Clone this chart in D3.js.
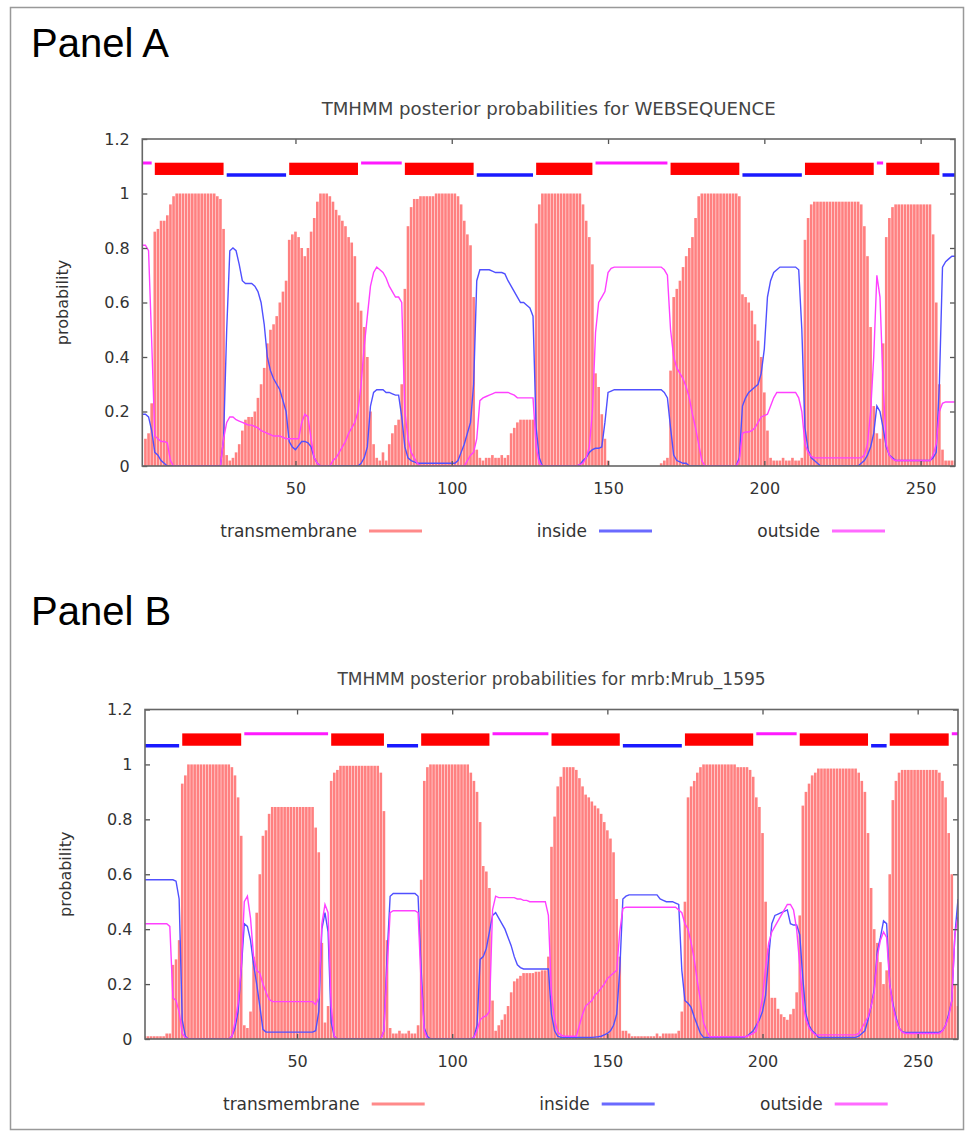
<!DOCTYPE html>
<html>
<head>
<meta charset="utf-8">
<script src="https://cdn.jsdelivr.net/npm/d3@7"></script>
<style>
body { margin: 0; background: #fff; }
svg text { font-family: "DejaVu Sans", sans-serif; }
</style>
</head>
<body>
<div id="chart"></div>
<script>
// axis ticks and legend names
var yTicks = [0, 0.2, 0.4, 0.6, 0.8, 1, 1.2];
var xTicks = [50, 100, 150, 200, 250];
var legendNames = ["transmembrane", "inside", "outside"];

// ---- Panel A : WEBSEQUENCE (261 residues) ----
var tmA = [
  0, 0.1, 0.12, 0.23, 0.86, 0.87, 0.9, 0.9, 0.92, 0.96,          // 1
  0.99, 1, 1, 1, 1, 1, 1, 1, 1, 1,                              // 11
  1, 1, 1, 1, 0.99, 0.98, 0.87, 0.04, 0.02, 0.03,               // 21
  0.05, 0.08, 0.13, 0.17, 0.18, 0.18, 0.2, 0.25, 0.3, 0.36,     // 31
  0.45, 0.5, 0.52, 0.55, 0.6, 0.64, 0.68, 0.83, 0.85, 0.86,     // 41
  0.84, 0.8, 0.77, 0.8, 0.86, 0.91, 0.97, 1, 1, 1,              // 51
  0.99, 0.97, 0.94, 0.92, 0.9, 0.88, 0.84, 0.82, 0.77, 0.6,     // 61
  0.57, 0.51, 0.4, 0.2, 0.08, 0.03, 0.02, 0.05, 0.02, 0.08,     // 71
  0.12, 0.15, 0.17, 0.3, 0.65, 0.88, 0.95, 0.98, 0.98, 0.99,    // 81
  0.99, 0.99, 0.99, 0.99, 1, 1, 1, 1, 1, 1,                     // 91
  1, 0.99, 0.96, 0.9, 0.85, 0.81, 0.62, 0.06, 0.03, 0.02,       // 101
  0.03, 0.03, 0.04, 0.03, 0.03, 0.04, 0.03, 0.04, 0.12, 0.14,   // 111
  0.16, 0.17, 0.17, 0.17, 0.17, 0.17, 0.89, 0.96, 1, 1,         // 121
  1, 1, 1, 1, 1, 1, 1, 1, 1, 1,                                 // 131
  1, 0.96, 0.9, 0.84, 0.74, 0.34, 0.29, 0.19, 0.1, 0.02,        // 141
  0, 0, 0, 0, 0, 0, 0, 0, 0, 0,                                 // 151
  0, 0, 0, 0, 0, 0, 0.01, 0.02, 0.03, 0.35,                     // 161
  0.62, 0.65, 0.68, 0.73, 0.77, 0.8, 0.84, 0.91, 0.99, 1,       // 171
  1, 1, 1, 1, 1, 1, 1, 1, 1, 1,                                 // 181
  1, 0.99, 0.63, 0.62, 0.6, 0.57, 0.52, 0.46, 0.4, 0.27,        // 191
  0.13, 0.03, 0.02, 0.02, 0.02, 0.03, 0.02, 0.02, 0.03, 0.02,   // 201
  0.02, 0.03, 0.83, 0.91, 0.96, 0.97, 0.97, 0.97, 0.97, 0.97,   // 211
  0.97, 0.97, 0.97, 0.97, 0.97, 0.97, 0.97, 0.97, 0.97, 0.97,   // 221
  0.96, 0.88, 0.77, 0.51, 0.22, 0.12, 0.1, 0.45, 0.84, 0.91,    // 231
  0.95, 0.96, 0.96, 0.96, 0.96, 0.96, 0.96, 0.96, 0.96, 0.96,   // 241
  0.96, 0.96, 0.96, 0.85, 0.6, 0.3, 0.06, 0.02, 0.02, 0.02,     // 251
  0.02                                                          // 261
];
var insideA = [
  0.19, 0.19, 0.18, 0.13, 0.05, 0.04, 0.02, 0.01, 0, 0,
  0, 0, 0, 0, 0, 0, 0, 0, 0, 0,
  0, 0, 0, 0, 0, 0, 0.1, 0.5, 0.79, 0.8,
  0.79, 0.74, 0.68, 0.67, 0.67, 0.67, 0.66, 0.64, 0.6, 0.52,
  0.4, 0.35, 0.32, 0.3, 0.28, 0.24, 0.2, 0.09, 0.07, 0.06,
  0.075, 0.09, 0.09, 0.085, 0.07, 0.03, 0.01, 0, 0, 0,
  0, 0, 0, 0, 0, 0, 0, 0, 0, 0,
  0.01, 0.03, 0.07, 0.22, 0.27, 0.28, 0.28, 0.28, 0.27, 0.27,
  0.265, 0.26, 0.26, 0.18, 0.07, 0.03, 0.02, 0.015, 0.01, 0.01,
  0.01, 0.01, 0.01, 0.01, 0.01, 0.01, 0.01, 0.01, 0.01, 0.01,
  0.01, 0.02, 0.05, 0.08, 0.12, 0.16, 0.3, 0.68, 0.72, 0.72,
  0.72, 0.72, 0.715, 0.71, 0.71, 0.71, 0.705, 0.68, 0.66, 0.64,
  0.62, 0.6, 0.6, 0.59, 0.58, 0.55, 0.14, 0.03, 0, 0,
  0, 0, 0, 0, 0, 0, 0, 0, 0, 0,
  0.005, 0.02, 0.03, 0.05, 0.06, 0.065, 0.065, 0.07, 0.16, 0.27,
  0.275, 0.28, 0.28, 0.28, 0.28, 0.28, 0.28, 0.28, 0.28, 0.28,
  0.28, 0.28, 0.28, 0.28, 0.28, 0.28, 0.28, 0.27, 0.25, 0.14,
  0.04, 0.02, 0.015, 0.01, 0.01, 0, 0, 0, 0, 0,
  0, 0, 0, 0, 0, 0, 0, 0, 0, 0,
  0, 0.03, 0.22, 0.25, 0.27, 0.28, 0.29, 0.3, 0.34, 0.43,
  0.62, 0.68, 0.71, 0.72, 0.73, 0.73, 0.73, 0.73, 0.73, 0.73,
  0.72, 0.5, 0.14, 0.06, 0.03, 0.02, 0.01, 0, 0, 0,
  0, 0, 0, 0, 0, 0, 0, 0, 0, 0,
  0.01, 0.02, 0.04, 0.07, 0.12, 0.22, 0.2, 0.14, 0.07, 0.04,
  0.03, 0.02, 0.02, 0.02, 0.02, 0.02, 0.02, 0.02, 0.02, 0.02,
  0.02, 0.02, 0.02, 0.03, 0.05, 0.3, 0.73, 0.75, 0.76, 0.77,
  0.77
];
var outsideA = [
  0.81, 0.81, 0.79, 0.46, 0.11, 0.1, 0.09, 0.09, 0.085, 0.02,
  0, 0, 0, 0, 0, 0, 0, 0, 0, 0,
  0, 0, 0, 0, 0, 0, 0.1, 0.16, 0.18, 0.18,
  0.17, 0.165, 0.16, 0.155, 0.15, 0.15, 0.145, 0.14, 0.13, 0.125,
  0.12, 0.115, 0.11, 0.11, 0.11, 0.105, 0.1, 0.1, 0.1, 0.1,
  0.1, 0.16, 0.19, 0.18, 0.1, 0.03, 0.01, 0, 0, 0,
  0, 0.02, 0.03, 0.05, 0.07, 0.09, 0.12, 0.14, 0.16, 0.2,
  0.3, 0.44, 0.55, 0.66, 0.71, 0.73, 0.72, 0.71, 0.69, 0.66,
  0.64, 0.62, 0.62, 0.6, 0.2, 0.1, 0.05, 0.03, 0.01, 0,
  0, 0, 0, 0, 0, 0, 0, 0, 0, 0,
  0, 0, 0, 0, 0.02, 0.04, 0.05, 0.1, 0.24, 0.25,
  0.255, 0.26, 0.265, 0.27, 0.27, 0.27, 0.27, 0.27, 0.265, 0.26,
  0.25, 0.25, 0.25, 0.25, 0.25, 0.25, 0.07, 0.01, 0, 0,
  0, 0, 0, 0, 0, 0, 0, 0, 0, 0,
  0.005, 0.01, 0.03, 0.07, 0.2, 0.49, 0.6, 0.62, 0.64, 0.71,
  0.725, 0.73, 0.73, 0.73, 0.73, 0.73, 0.73, 0.73, 0.73, 0.73,
  0.73, 0.73, 0.73, 0.73, 0.73, 0.73, 0.73, 0.72, 0.7, 0.5,
  0.4, 0.36, 0.34, 0.32, 0.29, 0.25, 0.19, 0.14, 0.08, 0.02,
  0, 0, 0, 0, 0, 0, 0, 0, 0, 0,
  0, 0.02, 0.12, 0.125, 0.125, 0.13, 0.14, 0.16, 0.18, 0.185,
  0.19, 0.22, 0.25, 0.27, 0.27, 0.27, 0.27, 0.27, 0.27, 0.27,
  0.25, 0.2, 0.08, 0.05, 0.035, 0.03, 0.03, 0.03, 0.03, 0.03,
  0.03, 0.03, 0.03, 0.03, 0.03, 0.03, 0.03, 0.03, 0.03, 0.03,
  0.03, 0.04, 0.08, 0.2, 0.4, 0.7, 0.62, 0.3, 0.08, 0.04,
  0.025, 0.02, 0.02, 0.02, 0.02, 0.02, 0.02, 0.02, 0.02, 0.02,
  0.02, 0.02, 0.02, 0.04, 0.08, 0.2, 0.23, 0.235, 0.235, 0.235,
  0.235
];
// predicted topology: [first residue, last residue, state]
var topoA = [[1, 4, "out"], [5, 27, "tm"], [28, 47, "in"], [48, 70, "tm"], [71, 84, "out"],
  [85, 107, "tm"], [108, 126, "in"], [127, 145, "tm"], [146, 169, "out"], [170, 192, "tm"],
  [193, 212, "in"], [213, 235, "tm"], [236, 238, "out"], [239, 256, "tm"], [257, 261, "in"]];

// ---- Panel B : mrb:Mrub_1595 (263 residues) ----
var tmB = [
  0.01, 0.01, 0.01, 0.01, 0.01, 0.01, 0.01, 0.02, 0.02, 0.27,   // 1
  0.29, 0.36, 0.93, 0.96, 1, 1, 1, 1, 1, 1,                     // 11
  1, 1, 1, 1, 1, 1, 1, 1, 0.99, 0.96,                           // 21
  0.88, 0.74, 0.05, 0.04, 0.1, 0.3, 0.46, 0.6, 0.74, 0.76,      // 31
  0.82, 0.845, 0.845, 0.845, 0.845, 0.845, 0.845, 0.845, 0.845, 0.845, // 41
  0.845, 0.845, 0.845, 0.845, 0.845, 0.77, 0.68, 0.35, 0.06, 0.12,     // 51
  0.94, 0.97, 0.98, 0.995, 0.995, 0.995, 0.995, 0.995, 0.995, 0.995,  // 61
  0.995, 0.995, 0.995, 0.995, 0.995, 0.995, 0.97, 0.83, 0.36, 0.04,   // 71
  0.02, 0.02, 0.03, 0.02, 0.02, 0.03, 0.02, 0.02, 0.05, 0.58,   // 81
  0.94, 0.99, 1, 1, 1, 1, 1, 1, 1, 1,                           // 91
  1, 1, 1, 1, 1, 0.97, 0.94, 0.9, 0.79, 0.63,                   // 101
  0.61, 0.55, 0.14, 0.03, 0.05, 0.07, 0.09, 0.12, 0.17, 0.21,   // 111
  0.22, 0.23, 0.24, 0.24, 0.24, 0.24, 0.245, 0.245, 0.25, 0.25, // 121
  0.3, 0.7, 0.81, 0.92, 0.955, 0.99, 0.99, 0.99, 0.99, 0.98,    // 131
  0.95, 0.92, 0.89, 0.88, 0.865, 0.85, 0.84, 0.82, 0.79, 0.76,  // 141
  0.73, 0.68, 0.51, 0.3, 0.03, 0.03, 0.02, 0.01, 0.01, 0.01,    // 151
  0.01, 0.01, 0.01, 0.01, 0.01, 0.02, 0.01, 0.02, 0.02, 0.02,   // 161
  0.02, 0.02, 0.03, 0.1, 0.5, 0.88, 0.92, 0.94, 0.97, 0.99,     // 171
  1, 1, 1, 1, 1, 1, 1, 1, 1, 1,                                 // 181
  1, 0.99, 0.99, 0.99, 0.99, 0.98, 0.955, 0.88, 0.845, 0.75,    // 191
  0.5, 0.33, 0.15, 0.15, 0.11, 0.09, 0.08, 0.07, 0.09, 0.11,    // 201
  0.17, 0.45, 0.85, 0.9, 0.93, 0.96, 0.97, 0.985, 0.985, 0.985, // 211
  0.985, 0.985, 0.985, 0.985, 0.985, 0.985, 0.985, 0.985, 0.985, 0.985, // 221
  0.97, 0.94, 0.9, 0.75, 0.55, 0.4, 0.35, 0.28, 0.2, 0.25,      // 231
  0.6, 0.87, 0.94, 0.97, 0.98, 0.98, 0.98, 0.98, 0.98, 0.98,    // 241
  0.98, 0.98, 0.98, 0.98, 0.98, 0.98, 0.97, 0.94, 0.88, 0.75,   // 251
  0.6, 0.2, 0.12                                                // 261
];
var insideB = [
  0.58, 0.58, 0.58, 0.58, 0.58, 0.58, 0.58, 0.58, 0.58, 0.58,
  0.575, 0.51, 0.07, 0.01, 0, 0, 0, 0, 0, 0,
  0, 0, 0, 0, 0, 0, 0, 0, 0.01, 0.04,
  0.1, 0.25, 0.42, 0.41, 0.36, 0.27, 0.2, 0.12, 0.035, 0.025,
  0.025, 0.025, 0.025, 0.025, 0.025, 0.025, 0.025, 0.025, 0.025, 0.025,
  0.025, 0.025, 0.025, 0.025, 0.025, 0.03, 0.1, 0.4, 0.46, 0.39,
  0.06, 0.01, 0, 0, 0, 0, 0, 0, 0, 0,
  0, 0, 0, 0, 0, 0, 0, 0.03, 0.3, 0.52,
  0.53, 0.53, 0.53, 0.53, 0.53, 0.53, 0.53, 0.53, 0.52, 0.25,
  0.04, 0.01, 0, 0, 0, 0, 0, 0, 0, 0,
  0, 0, 0, 0, 0, 0, 0.005, 0.05, 0.29, 0.3,
  0.33, 0.39, 0.45, 0.46, 0.44, 0.42, 0.4, 0.37, 0.34, 0.3,
  0.27, 0.26, 0.255, 0.255, 0.255, 0.255, 0.255, 0.255, 0.255, 0.255,
  0.255, 0.09, 0.03, 0.01, 0.006, 0.006, 0.006, 0.006, 0.006, 0.006,
  0.006, 0.006, 0.006, 0.006, 0.006, 0.007, 0.008, 0.01, 0.015, 0.02,
  0.03, 0.05, 0.09, 0.25, 0.51, 0.52, 0.525, 0.525, 0.525, 0.525,
  0.525, 0.525, 0.525, 0.525, 0.525, 0.525, 0.51, 0.505, 0.5, 0.5,
  0.5, 0.495, 0.49, 0.25, 0.14, 0.13, 0.115, 0.08, 0.05, 0.02,
  0.006, 0.006, 0.006, 0.006, 0.006, 0.006, 0.006, 0.006, 0.006, 0.006,
  0.006, 0.006, 0.006, 0.006, 0.01, 0.02, 0.03, 0.05, 0.07, 0.1,
  0.16, 0.3, 0.42, 0.45, 0.455, 0.46, 0.465, 0.47, 0.42, 0.415,
  0.415, 0.38, 0.22, 0.09, 0.05, 0.03, 0.02, 0.006, 0.006, 0.006,
  0.006, 0.006, 0.006, 0.006, 0.006, 0.006, 0.006, 0.006, 0.006, 0.006,
  0.01, 0.02, 0.03, 0.07, 0.12, 0.18, 0.32, 0.37, 0.43, 0.42,
  0.2, 0.13, 0.08, 0.04, 0.027, 0.024, 0.024, 0.024, 0.024, 0.024,
  0.024, 0.024, 0.024, 0.024, 0.024, 0.024, 0.025, 0.03, 0.05, 0.09,
  0.14, 0.38, 0.51
];
var outsideB = [
  0.42, 0.42, 0.42, 0.42, 0.42, 0.42, 0.42, 0.42, 0.41, 0.15,
  0.14, 0.1, 0.02, 0.005, 0, 0, 0, 0, 0, 0,
  0, 0, 0, 0, 0, 0, 0, 0, 0.01, 0.06,
  0.13, 0.26, 0.5, 0.52, 0.44, 0.3, 0.25, 0.24, 0.2, 0.17,
  0.145, 0.136, 0.136, 0.136, 0.136, 0.136, 0.136, 0.136, 0.136, 0.136,
  0.136, 0.136, 0.136, 0.136, 0.136, 0.125, 0.15, 0.42, 0.49, 0.46,
  0.12, 0.01, 0, 0, 0, 0, 0, 0, 0, 0,
  0, 0, 0, 0, 0, 0, 0, 0.03, 0.25, 0.46,
  0.467, 0.467, 0.467, 0.467, 0.467, 0.467, 0.467, 0.467, 0.46, 0.2,
  0.03, 0, 0, 0, 0, 0, 0, 0, 0, 0,
  0, 0, 0, 0, 0, 0, 0.005, 0.03, 0.07, 0.08,
  0.085, 0.1, 0.47, 0.52, 0.515, 0.515, 0.515, 0.515, 0.515, 0.515,
  0.51, 0.51, 0.505, 0.505, 0.5, 0.5, 0.5, 0.5, 0.5, 0.5,
  0.45, 0.16, 0.07, 0.025, 0.015, 0.01, 0.01, 0.01, 0.01, 0.01,
  0.05, 0.09, 0.12, 0.13, 0.14, 0.16, 0.17, 0.185, 0.2, 0.22,
  0.23, 0.24, 0.25, 0.39, 0.475, 0.48, 0.48, 0.48, 0.48, 0.48,
  0.48, 0.48, 0.48, 0.48, 0.48, 0.48, 0.48, 0.48, 0.48, 0.48,
  0.48, 0.48, 0.47, 0.46, 0.42, 0.4, 0.35, 0.29, 0.21, 0.14,
  0.06, 0.03, 0.008, 0.008, 0.008, 0.008, 0.008, 0.008, 0.008, 0.008,
  0.008, 0.008, 0.008, 0.008, 0.01, 0.015, 0.02, 0.03, 0.09, 0.15,
  0.26, 0.35, 0.39, 0.41, 0.43, 0.45, 0.47, 0.49, 0.49, 0.47,
  0.4, 0.27, 0.13, 0.07, 0.04, 0.025, 0.015, 0.015, 0.015, 0.015,
  0.015, 0.015, 0.015, 0.015, 0.015, 0.015, 0.015, 0.015, 0.015, 0.015,
  0.02, 0.04, 0.06, 0.08, 0.12, 0.17, 0.3, 0.36, 0.39, 0.37,
  0.2, 0.12, 0.07, 0.04, 0.025, 0.02, 0.02, 0.02, 0.02, 0.02,
  0.02, 0.02, 0.02, 0.02, 0.02, 0.02, 0.02, 0.03, 0.05, 0.08,
  0.14, 0.38, 0.445
];
var topoB = [[1, 12, "in"], [13, 32, "tm"], [33, 60, "out"], [61, 78, "tm"], [79, 89, "in"],
  [90, 112, "tm"], [113, 131, "out"], [132, 154, "tm"], [155, 174, "in"], [175, 197, "tm"],
  [198, 211, "out"], [212, 234, "tm"], [235, 240, "in"], [241, 260, "tm"], [261, 263, "out"]];

var W = 969, H = 1135;
var svg = d3.select("#chart").append("svg")
  .attr("width", W)
  .attr("height", H);

svg.append("rect")
  .attr("width", W).attr("height", H)
  .attr("fill", "#fff");

// outer frame of the figure
svg.append("rect")
  .attr("x", 10.5).attr("y", 7.5)
  .attr("width", 953).attr("height", 1122)
  .attr("fill", "none")
  .attr("stroke", "#999")
  .attr("stroke-width", 1.5);

var colTM = "#ff8080", colIn = "#5050ff", colOut = "#ff40ff";

function drawPanel(p, idx) {
  var x = d3.scaleLinear().domain([1, p.tm.length]).range([p.left, p.right]);
  var y = d3.scaleLinear().domain([0, 1.2]).range([p.bottom, p.top]);
  var step = x(2) - x(1);

  svg.append("text")
    .attr("x", 31).attr("y", p.labelY)
    .style("font-family", "'Liberation Sans', Arial, sans-serif")
    .style("font-size", "40px")
    .attr("fill", "#000")
    .text(p.label);

  var title = svg.append("text")
    .attr("x", (p.left + p.right) / 2).attr("y", p.titleY)
    .attr("text-anchor", "middle")
    .style("font-size", "17px")
    .attr("fill", "#444")
    .text(p.title);
  if (p.titleLen) title.attr("textLength", p.titleLen).attr("lengthAdjust", "spacingAndGlyphs");

  var clipId = "clip" + idx;
  svg.append("clipPath").attr("id", clipId)
    .append("rect")
    .attr("x", p.left).attr("y", p.top)
    .attr("width", p.right - p.left).attr("height", p.bottom - p.top);

  var g = svg.append("g").attr("clip-path", "url(#" + clipId + ")");

  // transmembrane probability bars
  g.selectAll("rect.tm")
    .data(p.tm)
    .enter().append("rect")
    .attr("class", "tm")
    .attr("x", function(d, i) { return x(i + 1) - step * 0.42; })
    .attr("width", step * 0.84)
    .attr("y", function(d) { return y(d); })
    .attr("height", function(d) { return y(0) - y(d); })
    .attr("fill", colTM);

  var line = d3.line()
    .x(function(d, i) { return x(i + 1); })
    .y(function(d) { return y(d); });

  g.append("path").datum(p.inside)
    .attr("d", line)
    .attr("fill", "none")
    .attr("stroke", colIn)
    .attr("stroke-width", 1.4);

  g.append("path").datum(p.outside)
    .attr("d", line)
    .attr("fill", "none")
    .attr("stroke", colOut)
    .attr("stroke-width", 1.4);

  // predicted topology on top
  p.topo.forEach(function(s) {
    if (s[2] == "tm") {
      g.append("rect")
        .attr("x", x(s[0])).attr("width", x(s[1]) - x(s[0]))
        .attr("y", y(1.113)).attr("height", y(1.068) - y(1.113))
        .attr("fill", "#ff0000");
    } else {
      var yy = s[2] == "in" ? 1.068 : 1.112;
      g.append("line")
        .attr("x1", x(s[0])).attr("x2", x(s[1]))
        .attr("y1", y(yy)).attr("y2", y(yy))
        .attr("stroke", s[2] == "in" ? "#1a1aff" : "#ff1aff")
        .attr("stroke-width", s[2] == "in" ? 3.5 : 3);
    }
  });

  // axes, ticks pointing inwards
  svg.append("g")
    .attr("transform", "translate(" + p.left + ",0)")
    .call(d3.axisLeft(y).tickValues(yTicks).tickSize(-5).tickPadding(12.5)
      .tickFormat(d3.format("~g")));
  svg.append("g")
    .attr("transform", "translate(0," + p.bottom + ")")
    .call(d3.axisBottom(x).tickValues(xTicks).tickSize(-5).tickPadding(17));
  svg.append("g")
    .attr("transform", "translate(" + p.right + ",0)")
    .call(d3.axisRight(y).tickValues(yTicks).tickSize(-5).tickFormat(""));
  svg.append("g")
    .attr("transform", "translate(0," + p.top + ")")
    .call(d3.axisTop(x).tickValues(xTicks).tickSize(-5).tickFormat(""));

  svg.selectAll(".domain").remove();
  svg.selectAll(".tick line").attr("stroke", "#555").attr("stroke-width", 1.3);
  svg.selectAll(".tick text")
    .style("font-family", "'DejaVu Sans', sans-serif")
    .style("font-size", "16px")
    .attr("fill", "#333");

  svg.append("rect")
    .attr("x", p.left).attr("y", p.top)
    .attr("width", p.right - p.left).attr("height", p.bottom - p.top)
    .attr("fill", "none")
    .attr("stroke", "#666")
    .attr("stroke-width", 1.6);

  svg.append("text")
    .attr("transform", "translate(" + p.ylabelX + "," + ((p.top + p.bottom) / 2) + ") rotate(-90)")
    .attr("text-anchor", "middle")
    .style("font-size", "16px")
    .attr("fill", "#333")
    .text("probability");

  // legend
  var legendOff = [214.7, 444.7, 677.7];
  var legendCol = ["#ff8a8a", "#6a6aff", "#ff6aff"];
  legendNames.forEach(function(name, i) {
    var lx = p.left + legendOff[i];
    svg.append("text")
      .attr("x", lx).attr("y", p.legendY)
      .attr("text-anchor", "end")
      .style("font-size", "17px")
      .attr("fill", "#333")
      .text(name);
    svg.append("line")
      .attr("x1", lx + 12).attr("x2", lx + 65)
      .attr("y1", p.legendY - 6).attr("y2", p.legendY - 6)
      .attr("stroke", legendCol[i])
      .attr("stroke-width", 3);
  });
}

drawPanel({
  label: "Panel A", labelY: 57,
  title: "TMHMM posterior probabilities for WEBSEQUENCE", titleY: 114.5, titleLen: 454,
  left: 142.3, right: 955, top: 139, bottom: 466,
  tm: tmA, inside: insideA, outside: outsideA, topo: topoA,
  legendY: 537, ylabelX: 68
}, 0);

drawPanel({
  label: "Panel B", labelY: 625,
  title: "TMHMM posterior probabilities for mrb:Mrub_1595", titleY: 685,
  left: 145, right: 958, top: 709.5, bottom: 1039,
  tm: tmB, inside: insideB, outside: outsideB, topo: topoB,
  legendY: 1110, ylabelX: 71
}, 1);
</script>
</body>
</html>
